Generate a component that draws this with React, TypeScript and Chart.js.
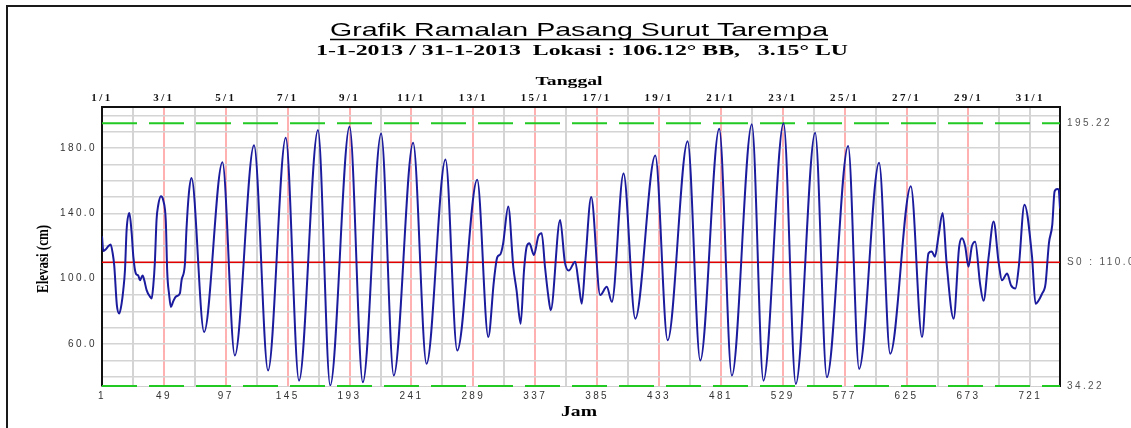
import React, { useEffect, useRef } from 'react';
import { Chart, registerables } from 'chart.js';

Chart.register(...registerables);

const TITLE = 'Grafik Ramalan Pasang Surut Tarempa';
const SUBTITLE = '1-1-2013 / 31-1-2013  Lokasi : 106.12\u00B0 BB,   3.15\u00B0 LU';
const TOP_AXIS_TITLE = 'Tanggal';
const X_AXIS_TITLE = 'Jam';
const Y_AXIS_TITLE = 'Elevasi (cm)';

// hourly tide elevation readings (hour index, elevation in cm)
const HOURS = [
  1, 2, 4, 6, 7.7, 9.3, 10.5, 12.5, 14.4, 16.2, 17.5, 18.8, 20.1, 22.2, 24, 25.3, 27.3, 29.1, 30.4, 32.5,
  33.8, 35.6, 38.2, 39.5, 40.7, 42, 43.3, 44.6, 46.7, 48.5, 50.5, 51.6, 53.1, 54.4, 56.2, 58.3, 61.4, 62.7, 65.3, 66.5,
  68.4, 70.4,
  80.2, 94.4, 104, 118.9, 129.8, 143.5, 153.8, 168.5, 178, 193, 203.3, 217.5, 227.3, 242.3, 252.7, 267.4, 276.5, 292, 300.6,
  305, 307.5, 310, 312, 316.1, 320, 322.5, 325.7, 328.3, 330.4, 332.5, 336, 339.4, 342, 344.6, 347.2, 349, 356.3, 360, 363,
  368, 370.7, 373.1, 376, 380.4, 387.4, 392.5, 396.4,
  405.5, 414.6, 430.1, 439.7, 455.2, 465, 479.7, 489.5, 505, 514, 529.6, 539.1, 554.1, 563.2, 579.7, 588.2, 603.7, 612.3, 628.3, 637,
  642, 644.5, 647, 649.7, 653, 656, 661.5, 665.8, 668, 670.5, 673, 675.6, 678.2, 682, 684.7, 688.6, 692.5, 696.4, 699, 703,
  706, 709.4, 712, 716.4, 722.3, 725, 730.2, 732.8, 735.4, 738, 739.8, 741.9, 743, 744,
];
const ELEVATION = [
  126, 117, 118, 120, 121, 115.5, 108, 84, 78.6, 84.7, 93, 105, 130, 140.2, 128, 113.5, 103, 102, 99, 102,
  99, 93, 89, 87.8, 95, 110, 136, 145, 150.5, 148, 135, 104, 90, 82.7, 86, 89, 91, 99, 109, 130,
  152.5, 161.7,
  67.3, 171.4, 52.9, 181.7, 43.7, 186.4, 37.5, 191.1, 34.6, 193.2, 36.5, 189, 40.6, 183.3, 47.8, 173, 56, 160.7, 64.2,
  99, 113, 115, 121, 144.3, 107, 93, 72.4, 105, 119.7, 121.7, 114.5, 126, 127.9, 107, 89, 80.6, 136, 110, 105,
  110.4, 97, 84.7, 112, 150, 90, 95, 85.8,
  164.4, 75.5, 175.5, 62.2, 184.3, 49.8, 191.9, 40.6, 194.6, 37.5, 195.2, 35.5, 189.5, 39.6, 181.3, 44.7, 171, 54, 156.6, 64.2,
  115.5, 116.6, 113.5, 125.8, 140.2, 110, 75.5, 119.7, 124.8, 119.7, 107.3, 119.7, 122.7, 97, 86.4, 113, 135, 110, 99, 103.2,
  96, 94, 107, 145.3, 113.5, 84.7, 91, 97, 121.7, 133, 153.5, 155, 154.5, 143,
];

const X_MIN = 1;
const X_MAX = 744;
const Y_MIN = 34.22;
const Y_MAX = 205.22;

const HOUR_LABELS = [1, 49, 97, 145, 193, 241, 289, 337, 385, 433, 481, 529, 577, 625, 673, 721];
const DAY_LABELS = ['1/1', '3/1', '5/1', '7/1', '9/1', '11/1', '13/1', '15/1', '17/1', '19/1', '21/1', '23/1', '25/1', '27/1', '29/1', '31/1'];
const DAY_GRID = [1, 25, 49, 73, 97, 121, 145, 169, 193, 217, 241, 265, 289, 313, 337, 361, 385, 409, 433, 457, 481, 505, 529, 553, 577, 601, 625, 649, 673, 697, 721];
const RED_GRID = [49, 97, 145, 193, 241, 289, 337, 385, 433, 481, 529, 577, 625, 673];
const Y_GRID = [40, 50, 60, 70, 80, 90, 100, 110, 120, 130, 140, 150, 160, 170, 180, 190, 200];
const Y_LABELS = [60, 100, 140, 180];
const RIGHT_TICKS = [34.22, 110, 195.22];
const RIGHT_LABELS = ['34.22', 'S0 : 110.00', '195.22'];

const MSL = 110;
const HHWL = 195.22;
const LLWL = 34.22;

const TICK_FONT = { family: '"Liberation Sans", Arial, sans-serif', size: 10 };

function drawStretched(
  ctx: CanvasRenderingContext2D,
  text: string,
  cx: number,
  cy: number,
  width: number,
  font: string,
  rotate = false,
  baseline: CanvasTextBaseline = 'alphabetic'
) {
  ctx.save();
  (ctx as any).letterSpacing = '0px';
  ctx.font = font;
  ctx.fillStyle = '#000';
  ctx.textAlign = 'center';
  ctx.textBaseline = baseline;
  const w = ctx.measureText(text).width;
  ctx.translate(cx, cy);
  if (rotate) ctx.rotate(-Math.PI / 2);
  ctx.scale(width / w, 1);
  ctx.fillText(text, 0, 0);
  ctx.restore();
}

const decorPlugin = {
  id: 'decor',
  beforeDraw(chart: any) {
    const ctx = chart.ctx as CanvasRenderingContext2D;
    ctx.save();
    ctx.strokeStyle = '#1a1a1a';
    ctx.lineWidth = 2;
    ctx.beginPath();
    ctx.moveTo(7, 428);
    ctx.lineTo(7, 6);
    ctx.lineTo(1131, 6);
    ctx.stroke();
    ctx.restore();
    (ctx as any).letterSpacing = '2.4px';
  },
  afterDraw(chart: any) {
    const ctx = chart.ctx as CanvasRenderingContext2D;
    (ctx as any).letterSpacing = '0px';
    drawStretched(ctx, TITLE, 579, 36, 498, '19px "Liberation Sans", Arial, sans-serif');
    ctx.save();
    ctx.strokeStyle = '#000';
    ctx.lineWidth = 1.3;
    ctx.beginPath();
    ctx.moveTo(330, 39.5);
    ctx.lineTo(828, 39.5);
    ctx.stroke();
    ctx.restore();
    drawStretched(ctx, SUBTITLE, 582, 55, 532, 'bold 15px "Liberation Serif", "Times New Roman", serif');
    drawStretched(ctx, TOP_AXIS_TITLE, 569, 85, 67, 'bold 13px "Liberation Serif", "Times New Roman", serif');
    drawStretched(ctx, X_AXIS_TITLE, 579, 416, 36, 'bold 14px "Liberation Serif", "Times New Roman", serif');
    drawStretched(ctx, Y_AXIS_TITLE, 44, 259, 68, 'bold 17px "Liberation Serif", "Times New Roman", serif', true, 'middle');
  },
};

export default function App() {
  const ref = useRef<HTMLCanvasElement>(null);
  useEffect(() => {
    const canvas = ref.current;
    if (!canvas) return;
    const chart = new Chart(canvas, {
      type: 'line',
      data: {
        datasets: [
          {
            label: 'Elevasi',
            data: HOURS.map((h, i) => ({ x: h, y: ELEVATION[i] })),
            borderColor: '#1b1b9e',
            borderWidth: 2,
            pointRadius: 0,
            cubicInterpolationMode: 'monotone',
            xAxisID: 'x',
            yAxisID: 'y',
            order: 0,
          },
          {
            label: 'MSL',
            data: [{ x: X_MIN, y: MSL }, { x: X_MAX, y: MSL }],
            borderColor: '#e00000',
            borderWidth: 1.5,
            pointRadius: 0,
            xAxisID: 'x',
            yAxisID: 'y',
            order: 1,
          },
          {
            label: 'HHWL',
            data: [{ x: X_MIN, y: HHWL }, { x: X_MAX, y: HHWL }],
            borderColor: '#22c922',
            borderWidth: 2,
            borderDash: [35, 12],
            pointRadius: 0,
            clip: 3,
            xAxisID: 'x',
            yAxisID: 'y',
            order: 2,
          },
          {
            label: 'LLWL',
            data: [{ x: X_MIN, y: LLWL }, { x: X_MAX, y: LLWL }],
            borderColor: '#22c922',
            borderWidth: 2,
            borderDash: [35, 12],
            pointRadius: 0,
            clip: 3,
            xAxisID: 'x',
            yAxisID: 'y',
            order: 3,
          },
        ],
      },
      options: {
        responsive: false,
        animation: false,
        devicePixelRatio: 1,
        layout: { padding: 0 },
        plugins: { legend: { display: false }, title: { display: false }, tooltip: { enabled: false } },
        scales: {
          x: {
            type: 'linear',
            position: 'bottom',
            min: X_MIN,
            max: X_MAX,
            afterBuildTicks: (s: any) => {
              s.ticks = DAY_GRID.map((v) => ({ value: v }));
            },
            afterFit: (s: any) => {
              s.height = 42;
            },
            ticks: {
              autoSkip: false,
              maxRotation: 0,
              padding: 4,
              font: TICK_FONT,
              color: '#333',
              callback: (v: any) => (HOUR_LABELS.includes(v) ? String(v) : ''),
            },
            grid: {
              drawTicks: false,
              lineWidth: 2,
              color: (c: any) => (RED_GRID.includes(c.tick?.value) ? '#ffb0b0' : '#d4d4d4'),
            },
            border: { display: true, color: '#cfcfcf', width: 1 },
          },
          xTop: {
            type: 'linear',
            position: 'top',
            min: X_MIN,
            max: X_MAX,
            afterBuildTicks: (s: any) => {
              s.ticks = HOUR_LABELS.map((v) => ({ value: v }));
            },
            afterFit: (s: any) => {
              s.height = 107;
            },
            ticks: {
              autoSkip: false,
              maxRotation: 0,
              padding: 2,
              font: { family: '"Liberation Serif", "Times New Roman", serif', size: 11, weight: 'bold' },
              color: '#111',
              callback: (v: any) => {
                const i = HOUR_LABELS.indexOf(v);
                return i >= 0 ? DAY_LABELS[i] : '';
              },
            },
            grid: { display: false, drawTicks: false },
            border: { display: true, color: '#111', width: 2 },
          },
          y: {
            type: 'linear',
            position: 'left',
            min: Y_MIN,
            max: Y_MAX,
            afterBuildTicks: (s: any) => {
              s.ticks = Y_GRID.map((v) => ({ value: v }));
            },
            afterFit: (s: any) => {
              s.width = 102;
            },
            ticks: {
              autoSkip: false,
              padding: 5,
              font: TICK_FONT,
              color: '#333',
              callback: (v: any) => (Y_LABELS.includes(v) ? Number(v).toFixed(1) : ''),
            },
            grid: { drawTicks: false, lineWidth: 1.5, color: '#d4d4d4' },
            border: { display: true, color: '#111', width: 2 },
          },
          yRight: {
            type: 'linear',
            position: 'right',
            min: Y_MIN,
            max: Y_MAX,
            afterBuildTicks: (s: any) => {
              s.ticks = RIGHT_TICKS.map((v) => ({ value: v }));
            },
            afterFit: (s: any) => {
              s.width = 71;
            },
            ticks: {
              autoSkip: false,
              padding: 7,
              font: TICK_FONT,
              color: '#555',
              callback: (v: any) => {
                const i = RIGHT_TICKS.indexOf(v);
                return i >= 0 ? RIGHT_LABELS[i] : '';
              },
            },
            grid: { display: false, drawTicks: false },
            border: { display: true, color: '#111', width: 2 },
          },
        },
      },
      plugins: [decorPlugin],
    } as any);
    return () => chart.destroy();
  }, []);
  return (
    <div style={{ position: 'absolute', left: 0, top: 0, width: 1131, height: 428, background: '#fff' }}>
      <canvas ref={ref} width={1131} height={428} />
    </div>
  );
}
